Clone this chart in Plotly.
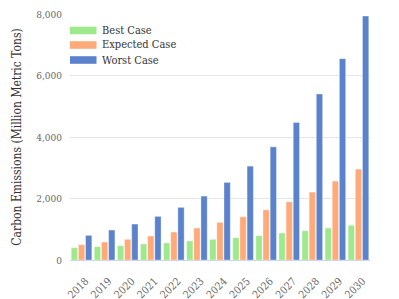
import plotly.graph_objects as go

years = [str(y) for y in range(2018, 2031)]
best_case = [400, 432, 465, 519, 552, 617, 672, 724, 789, 877, 951, 1039, 1127]
expected_case = [497, 584, 672, 779, 909, 1039, 1224, 1406, 1633, 1893, 2208, 2565, 2955]
worst_case = [800, 974, 1169, 1418, 1711, 2078, 2522, 3052, 3679, 4471, 5400, 6548, 7932]
series_names = ["Best Case", "Expected Case", "Worst Case"]
series_colors = ["#9de98b", "#ffaa78", "#5b82cc"]
y_ticks = [0, 2000, 4000, 6000, 8000]
y_tick_labels = ["0", "2,000", "4,000", "6,000", "8,000"]

OFF = 8  # page body margin
W, H = 399 - OFF, 299 - OFF
L, R, T, B = 70 - OFF, 29, 14 - OFF, 39
FONT = "DejaVu Serif Condensed, DejaVu Serif"

fig = go.Figure()
for name, vals, col in zip(series_names, [best_case, expected_case, worst_case], series_colors):
    fig.add_trace(go.Bar(
        x=years, y=vals, name=name, marker_color=col,
        marker_line=dict(color="rgba(255,255,255,0.35)", width=1),
        showlegend=False,
    ))

pw, ph = W - L - R, H - T - B
def px(x):
    return (x - OFF - L) / pw
def py(y):
    return (H - B - (y - OFF)) / ph

row_centers = [30.5, 45.0, 60.0]
shapes = []
annotations = []
for name, col, cy in zip(series_names, series_colors, row_centers):
    shapes.append(dict(type="rect", xref="paper", yref="paper",
                       x0=px(70), x1=px(96.5), y0=py(cy - 3.8), y1=py(cy + 3.8),
                       fillcolor=col, line=dict(width=0)))
    annotations.append(dict(text=name, xref="paper", yref="paper",
                            x=px(100), y=py(cy), xanchor="left", yanchor="middle",
                            showarrow=False, font=dict(family=FONT, size=11, color="#333333")))

fig.update_layout(
    width=W, height=H,
    margin=dict(l=L, r=R, t=T, b=B, pad=0, autoexpand=False),
    paper_bgcolor="white", plot_bgcolor="white",
    barmode="group", bargap=0.07, bargroupgap=0.12,
    font=dict(family=FONT, size=11, color="#666666"),
    shapes=shapes, annotations=annotations,
    xaxis=dict(
        tickangle=-45, showgrid=False, showline=True, linecolor="#ccd6eb", linewidth=1,
        ticks="", tickfont=dict(family=FONT, size=10.5, color="#666666"),
        ticklabelstandoff=10, ticklabelshift=4,
        automargin=False,
    ),
    yaxis=dict(
        range=[0, 8000], tickvals=y_ticks, ticktext=y_tick_labels,
        showgrid=True, gridcolor="#e6e6e6", gridwidth=1, zeroline=False,
        showline=False, ticks="", ticklabelstandoff=7, automargin=False,
        ticklabeloverflow="allow",
        tickfont=dict(family=FONT, size=10, color="#666666"),
        title=dict(text="Carbon Emissions (Million Metric Tons)", standoff=12,
                   font=dict(family=FONT, size=12, color="#333333")),
    ),
)

fig.write_html("out.html")
